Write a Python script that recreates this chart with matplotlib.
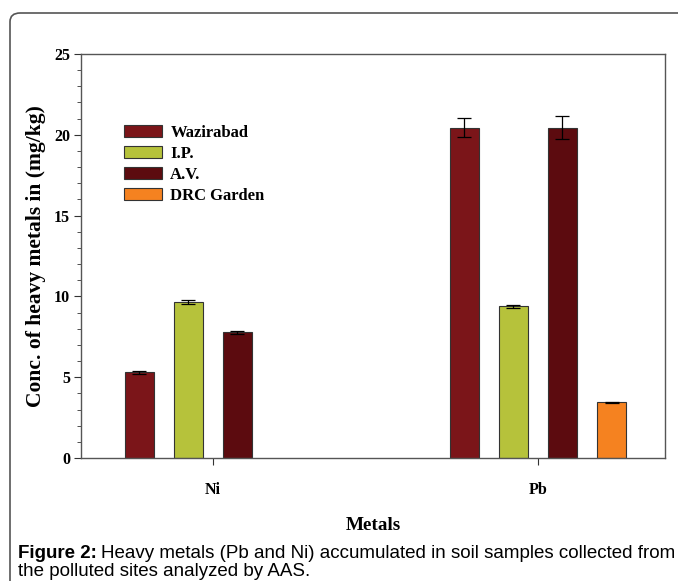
import numpy as np
import matplotlib
matplotlib.use("Agg")
import matplotlib.pyplot as plt
from matplotlib.patches import FancyBboxPatch
from matplotlib.ticker import MultipleLocator

# datos
metales = ["Ni", "Pb"]
sitios = ["Wazirabad", "I.P.", "A.V.", "DRC Garden"]
wazirabad = [5.3, 20.45]
ip = [9.65, 9.38]
av = [7.78, 20.45]
drc = [np.nan, 3.45]   # sin dato para Ni
err_wazirabad = [0.08, 0.6]
err_ip = [0.15, 0.1]
err_av = [0.08, 0.7]
err_drc = [np.nan, 0.04]
colores = ["#7B1519", "#B6C23B", "#5C0B0F", "#F58220"]

valores = [wazirabad, ip, av, drc]
errores = [err_wazirabad, err_ip, err_av, err_drc]

W, H = 678, 581
fig = plt.figure(figsize=(W / 100, H / 100), dpi=100)

# marco redondeado de la figura
marco = FancyBboxPatch((10 / W, -0.05), 1.2, (H - 13) / H + 0.05,
                       boxstyle="round,pad=0,rounding_size=0.015",
                       transform=fig.transFigure, fill=False,
                       edgecolor="#555555", linewidth=1.2)
fig.patches.append(marco)

# ejes en pixeles: izq 81, der 665, arriba 54, abajo 458
ax = fig.add_axes([81 / W, 1 - 458 / H, (665 - 81) / W, (458 - 54) / H])

x = np.arange(len(metales))
ancho = 0.089
paso = 0.151
for i, (nombre, vals, errs) in enumerate(zip(sitios, valores, errores)):
    pos = x + (i - 1.5) * paso
    ax.bar(pos, vals, ancho, color=colores[i], edgecolor="#333333",
           linewidth=0.8, label=nombre, zorder=2)
    ax.errorbar(pos, vals, yerr=errs, fmt="none", ecolor="black",
                elinewidth=0.9, capsize=4.7, capthick=0.9, zorder=3)

ax.set_xlim(-0.406, 1.391)
ax.set_ylim(0, 25)
ax.set_xticks(x)
ax.set_xticklabels(metales)
ax.yaxis.set_major_locator(MultipleLocator(5))
ax.yaxis.set_minor_locator(MultipleLocator(1))
ax.tick_params(axis="both", which="both", direction="out", colors="#333333",
               labelcolor="black")
ax.tick_params(axis="y", which="major", length=5, pad=3)
ax.tick_params(axis="y", which="minor", length=3)
ax.tick_params(axis="x", length=5, pad=12)
for s in ax.spines.values():
    s.set_color("#555555")
    s.set_linewidth(1.0)

serif = "Liberation Serif"
for lbl in ax.get_xticklabels() + ax.get_yticklabels():
    lbl.set_fontfamily(serif)
    lbl.set_fontweight("bold")
    lbl.set_fontsize(11.5)

ax.set_ylabel("Conc. of heavy metals in (mg/kg)", fontfamily=serif,
              fontweight="bold", fontsize=15.5)
ax.yaxis.set_label_coords((46 - 81) / (665 - 81), 0.5)
ax.set_xlabel("Metals", fontfamily=serif, fontweight="bold", fontsize=13.8,
              labelpad=14)

ax.legend(loc="upper left", bbox_to_anchor=(0.0736, 0.825), frameon=False,
          borderpad=0, borderaxespad=0,
          prop={"family": serif, "weight": "bold", "size": 12},
          handlelength=2.3, handleheight=0.78, labelspacing=0.3,
          handletextpad=0.48)

cap = 13.5
t1 = fig.text(18 / W, 1 - 553 / H, "Figure 2:", fontsize=cap,
              fontfamily="Liberation Sans", fontweight="bold", va="center")
fig.canvas.draw()
bb = t1.get_window_extent()
fig.text((bb.x1 + 4) / W, 1 - 553 / H,
         "Heavy metals (Pb and Ni) accumulated in soil samples collected from",
         fontsize=cap, fontfamily="Liberation Sans", va="center")
fig.text(18 / W, 1 - 571 / H, "the polluted sites analyzed by AAS.",
         fontsize=cap, fontfamily="Liberation Sans", va="center")

fig.savefig("out.png", dpi=100)
